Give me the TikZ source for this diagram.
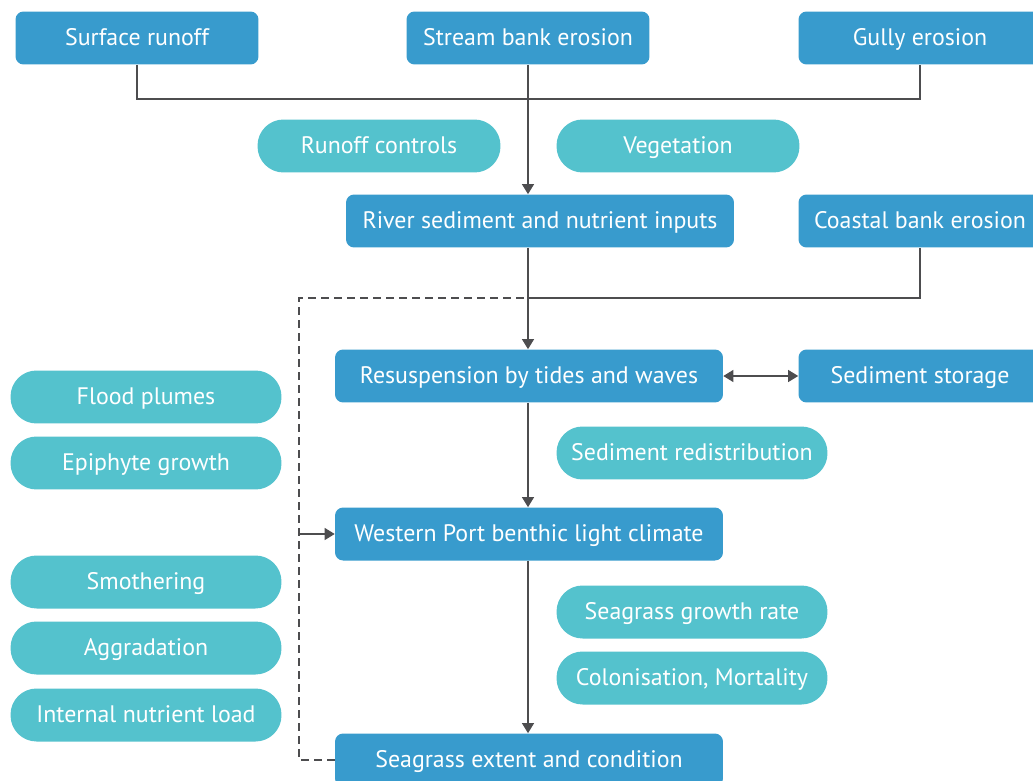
\documentclass[tikz,border=0pt]{standalone}
\usepackage{fontspec}
\setmainfont{PT Sans}
\usetikzlibrary{arrows.meta, positioning}
\definecolor{boxblue}{RGB}{56,155,205}
\definecolor{pillteal}{RGB}{84,194,205}
\definecolor{linegray}{RGB}{77,77,79}

\begin{document}
\begin{tikzpicture}[x=0.02cm,y=-0.02cm,
            every node/.style={align=center,text=white,font=\fontsize{13.6}{15}\selectfont},
            source/.style={fill=boxblue, rounded corners=0.16cm, minimum width=4.86cm, minimum height=1.06cm, inner sep=0pt, text height=2.1ex, text depth=.3ex},
            widesource/.style={source, minimum width=7.76cm},
            factor/.style={fill=pillteal, rounded corners=0.52cm, minimum width=4.86cm, minimum height=1.06cm, inner sep=0pt, text height=2.1ex, text depth=.3ex},
            widefactor/.style={factor, minimum width=5.42cm},
            link/.style={draw=linegray, semithick},
            to/.style={link, -{Triangle[width=0.24cm,length=0.2cm]}},
            both/.style={link, {Triangle[width=0.24cm,length=0.2cm]}-{Triangle[width=0.24cm,length=0.2cm]}},
            feedback/.style={link, dashed, dash pattern=on 0.16cm off 0.1cm}]
        \useasboundingbox (0,0) rectangle (1033,780);

        % top row of sources
        \node[source] (surf) at (137,38) {Surface runoff};
        \node[source] (stream) at (528,38) {Stream bank erosion};
        \node[source] (gully) at (920,38) {Gully erosion};

        \node[factor] (ctrl) at (379,146) {Runoff controls};
        \node[factor] (veg) at (678,146) {Vegetation};

        \node[widesource] (river) at (540,221) {River sediment and nutrient inputs};
        \node[source] (coast) at (920,221) {Coastal bank erosion};

        \node[widesource] (resus) at (529,376) {Resuspension by tides and waves};
        \node[source] (store) at (920,376) {Sediment storage};
        \node[widefactor] (redist) at (692,453) {Sediment redistribution};

        \node[widesource] (light) at (529,534) {Western Port benthic light climate};
        \node[widefactor] (growth) at (692,612) {Seagrass growth rate};
        \node[widefactor] (colon) at (692,678) {Colonisation, Mortality};

        \node[widesource] (seag) at (529,760) {Seagrass extent and condition};

        % left column of factors
        \node[widefactor] (flood) at (146,397) {Flood plumes};
        \node[widefactor] (epi) at (146,463) {Epiphyte growth};
        \node[widefactor] (smoth) at (146,582) {Smothering};
        \node[widefactor] (aggr) at (146,648) {Aggradation};
        \node[widefactor] (load) at (146,715) {Internal nutrient load};

        \coordinate (top) at (528,99);
        \coordinate (mid) at (528,298);
        \coordinate (loop) at (299,298);

        \draw[link] (surf.south) |- (top) -| (gully.south);
        \draw[to] (stream.south) -- (stream.south |- river.north);
        \draw[to] (river.south -| stream) -- (stream |- resus.north);
        \draw[link] (coast.south) |- (mid);
        \draw[both] (resus.east) -- (store.west);
        \draw[to] (resus.south -| stream) -- (stream |- light.north);
        \draw[to] (light.south -| stream) -- (stream |- seag.north);

        \draw[feedback] (seag.west) -| (loop) -- (mid);
        \draw[to] (loop |- light.west) -- (light.west);
    \end{tikzpicture}
\end{document}
